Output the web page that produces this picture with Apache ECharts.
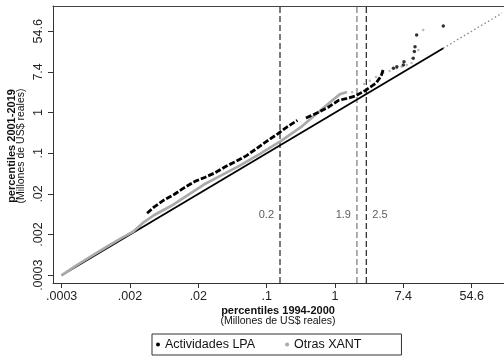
<!DOCTYPE html>
<html>
<head>
<meta charset="utf-8">
<script src="https://cdn.jsdelivr.net/npm/echarts@6/dist/echarts.min.js"></script>
<style>
  html, body { margin: 0; padding: 0; background: #fff; }
  #chart { width: 504px; height: 356px; }
</style>
</head>
<body>
<div id="chart"></div>
<script>
// Q-Q plot: percentiles 1994-2000 (x) against percentiles 2001-2019 (y),
// both in millions of real US$, drawn on natural-log axes.

// Otras XANT: dense body of the distribution
const xantX = [0.000335, 0.000500, 0.000747, 0.00123, 0.00203, 0.00274, 0.00370, 0.00499,
               0.00823, 0.0136, 0.0213, 0.0334, 0.0608, 0.111, 0.202, 0.368, 0.607, 0.951, 1.16, 1.42];
const xantY = [0.000335, 0.000526, 0.000801, 0.00133, 0.00218, 0.00288, 0.00452, 0.00641,
               0.0101, 0.0174, 0.0287, 0.0429, 0.0728, 0.131, 0.242, 0.487, 1.00, 1.90, 2.48, 2.75];
// Otras XANT: upper tail
const xantTailX = [1.65, 1.90, 2.34, 2.77, 3.32, 4.10, 4.95, 6.11, 7.03, 8.17, 9.39, 11.5, 13.2];
const xantTailY = [2.72, 3.13, 4.06, 4.81, 5.75, 7.10, 7.77, 8.85, 9.49, 10.4, 11.5, 21.8, 58.0];

// Actividades LPA: dense body (null marks a gap between quantiles)
const lpaX = [0.00409, 0.00499, 0.00674, 0.00910, 0.0123, 0.0166, 0.0224, 0.0302, 0.0408, 0.0550,
              0.0743, 0.100, 0.135, 0.183, 0.247, 0.333, null, 0.427, 0.607, 0.819, 1.11, 1.42,
              1.82, 2.46, 3.32, 3.86, 4.14];
const lpaY = [0.00708, 0.00956, 0.0136, 0.0180, 0.0252, 0.0340, 0.0416, 0.0523, 0.0707, 0.0907,
              0.119, 0.169, 0.242, 0.343, 0.497, 0.684, null, 0.763, 1.00, 1.30, 1.82, 2.01,
              2.27, 3.00, 4.26, 6.05, 8.76];
// Actividades LPA: upper tail
const lpaTailX = [5.53, 6.11, 7.39, 7.54, 9.87, 10.2, 10.4, 10.9, 23.8];
const lpaTailY = [8.85, 9.58, 10.4, 12.2, 14.4, 20.1, 25.5, 45.6, 70.8];

// 45-degree reference line: solid over the LPA range, dotted beyond it
const diagStart = 0.000335, diagSolidEnd = 23.8, diagEnd = 133;

// Vertical cut-off lines (millions of US$)
const cutoffs = [0.2, 1.9, 2.5];
const cutoffColors = ['#222', '#777', '#222'];
const cutoffLabelSide = ['left', 'left', 'right'];
const cutoffLabelLevel = 0.0065;

// Axis ticks: e^-8 ... e^4, labelled with rounded values
const tickLn = [-8, -6, -4, -2, 0, 2, 4];
const tickLabels = ['.0003', '.002', '.02', '.1', '1', '7.4', '54.6'];

const FONT = '"Liberation Sans", Arial, Helvetica, sans-serif';
const ln = Math.log;
const pairs = (xs, ys) => xs.map((x, i) => (x === null ? [null, null] : [ln(x), ln(ys[i])]));
const tickFmt = v => {
  const i = tickLn.findIndex(t => Math.abs(t - v) < 1e-6);
  return i >= 0 ? tickLabels[i] : '';
};

const X_MIN = -8.253, X_MAX = 4.946, Y_MIN = -8.382, Y_MAX = 5.243;

const cutoffSeries = cutoffs.map((c, i) => ({
  type: 'line', silent: true, symbol: 'none', z: 1,
  data: [[ln(c), Y_MIN], [ln(c), Y_MAX]],
  lineStyle: { color: cutoffColors[i], width: 1.2, type: [6, 3] }
}));

const cutoffLabels = {
  type: 'scatter', silent: true, symbolSize: 0, z: 6,
  data: cutoffs.map((c, i) => ({
    value: [ln(c), ln(cutoffLabelLevel)],
    label: { show: true, position: cutoffLabelSide[i], distance: 6, formatter: String(c),
             fontFamily: FONT, fontSize: 11, color: '#333' }
  }))
};

const chart = echarts.init(document.getElementById('chart'), null, { renderer: 'canvas' });
chart.setOption({
  animation: false,
  backgroundColor: '#fff',
  grid: { left: 53, right: 0, top: 6, bottom: 73, containLabel: false },
  xAxis: [{
    type: 'value', min: X_MIN, max: X_MAX, position: 'bottom',
    axisLine: { show: true, onZero: false, lineStyle: { color: '#333', width: 1 } },
    axisTick: { show: true, customValues: tickLn, length: 5, lineStyle: { color: '#333' } },
    axisLabel: { customValues: tickLn, formatter: tickFmt, margin: 7,
                 fontFamily: FONT, fontSize: 12.5, color: '#222' },
    splitLine: { show: false }
  }, {
    type: 'value', min: X_MIN, max: X_MAX, position: 'top',
    axisLine: { show: true, onZero: false, lineStyle: { color: '#444', width: 1 } },
    axisTick: { show: false }, axisLabel: { show: false }, splitLine: { show: false }
  }],
  yAxis: {
    type: 'value', min: Y_MIN, max: Y_MAX,
    axisLine: { show: true, onZero: false, lineStyle: { color: '#333', width: 1 } },
    axisTick: { show: true, customValues: tickLn, length: 5, lineStyle: { color: '#333' } },
    axisLabel: { customValues: tickLn, formatter: tickFmt, rotate: 90, margin: 8,
                 fontFamily: FONT, fontSize: 12.5, color: '#222' },
    splitLine: { show: false }
  },
  legend: {
    left: 152, top: 334, orient: 'horizontal', selectedMode: false,
    itemWidth: 4, itemHeight: 4, itemGap: 30,
    padding: [4, 40, 4, 4], borderColor: '#333', borderWidth: 1, borderRadius: 0,
    textStyle: { fontFamily: FONT, fontSize: 12.5, color: '#111' },
    data: [
      { name: 'Actividades LPA', icon: 'circle', itemStyle: { color: '#000' } },
      { name: 'Otras XANT', icon: 'circle', itemStyle: { color: '#aaa' } }
    ]
  },
  graphic: [
    { type: 'text', x: 278, y: 311, silent: true,
      style: { text: 'percentiles 1994-2000', font: 'bold 11px ' + FONT, fill: '#111',
               align: 'center', verticalAlign: 'middle' } },
    { type: 'text', x: 278, y: 321, silent: true,
      style: { text: '(Millones de US$ reales)', font: '10.5px ' + FONT, fill: '#111',
               align: 'center', verticalAlign: 'middle' } },
    { type: 'text', x: 11.5, y: 146, rotation: Math.PI / 2, silent: true,
      style: { text: 'percentiles 2001-2019', font: 'bold 11px ' + FONT, fill: '#111',
               align: 'center', verticalAlign: 'middle' } },
    { type: 'text', x: 21.5, y: 146, rotation: Math.PI / 2, silent: true,
      style: { text: '(Millones de US$ reales)', font: '10.5px ' + FONT, fill: '#111',
               align: 'center', verticalAlign: 'middle' } }
  ],
  series: [
    ...cutoffSeries,
    { type: 'line', silent: true, symbol: 'none', z: 2,
      data: [[ln(diagSolidEnd), ln(diagSolidEnd)], [ln(diagEnd), ln(diagEnd)]],
      lineStyle: { color: '#8a8a8a', width: 1.4, type: [1.5, 2.5] } },
    { type: 'line', silent: true, symbol: 'none', z: 2,
      data: [[ln(diagStart), ln(diagStart)], [ln(diagSolidEnd), ln(diagSolidEnd)]],
      lineStyle: { color: '#000', width: 1.8 } },
    { name: 'Otras XANT', type: 'line', symbol: 'none', z: 3,
      data: pairs(xantX, xantY),
      lineStyle: { color: '#aaa', width: 2.7 } },
    { name: 'Otras XANT', type: 'scatter', symbol: 'circle', symbolSize: 2.5, z: 3,
      data: pairs(xantTailX, xantTailY),
      itemStyle: { color: '#aaa' } },
    { name: 'Actividades LPA', type: 'line', symbol: 'none', z: 4, connectNulls: false,
      data: pairs(lpaX, lpaY),
      lineStyle: { color: '#000', width: 2.8, type: [6, 2] } },
    { name: 'Actividades LPA', type: 'scatter', symbol: 'circle', symbolSize: 3.5, z: 4,
      data: pairs(lpaTailX, lpaTailY),
      itemStyle: { color: '#000' } },
    cutoffLabels
  ]
});
</script>
</body>
</html>
